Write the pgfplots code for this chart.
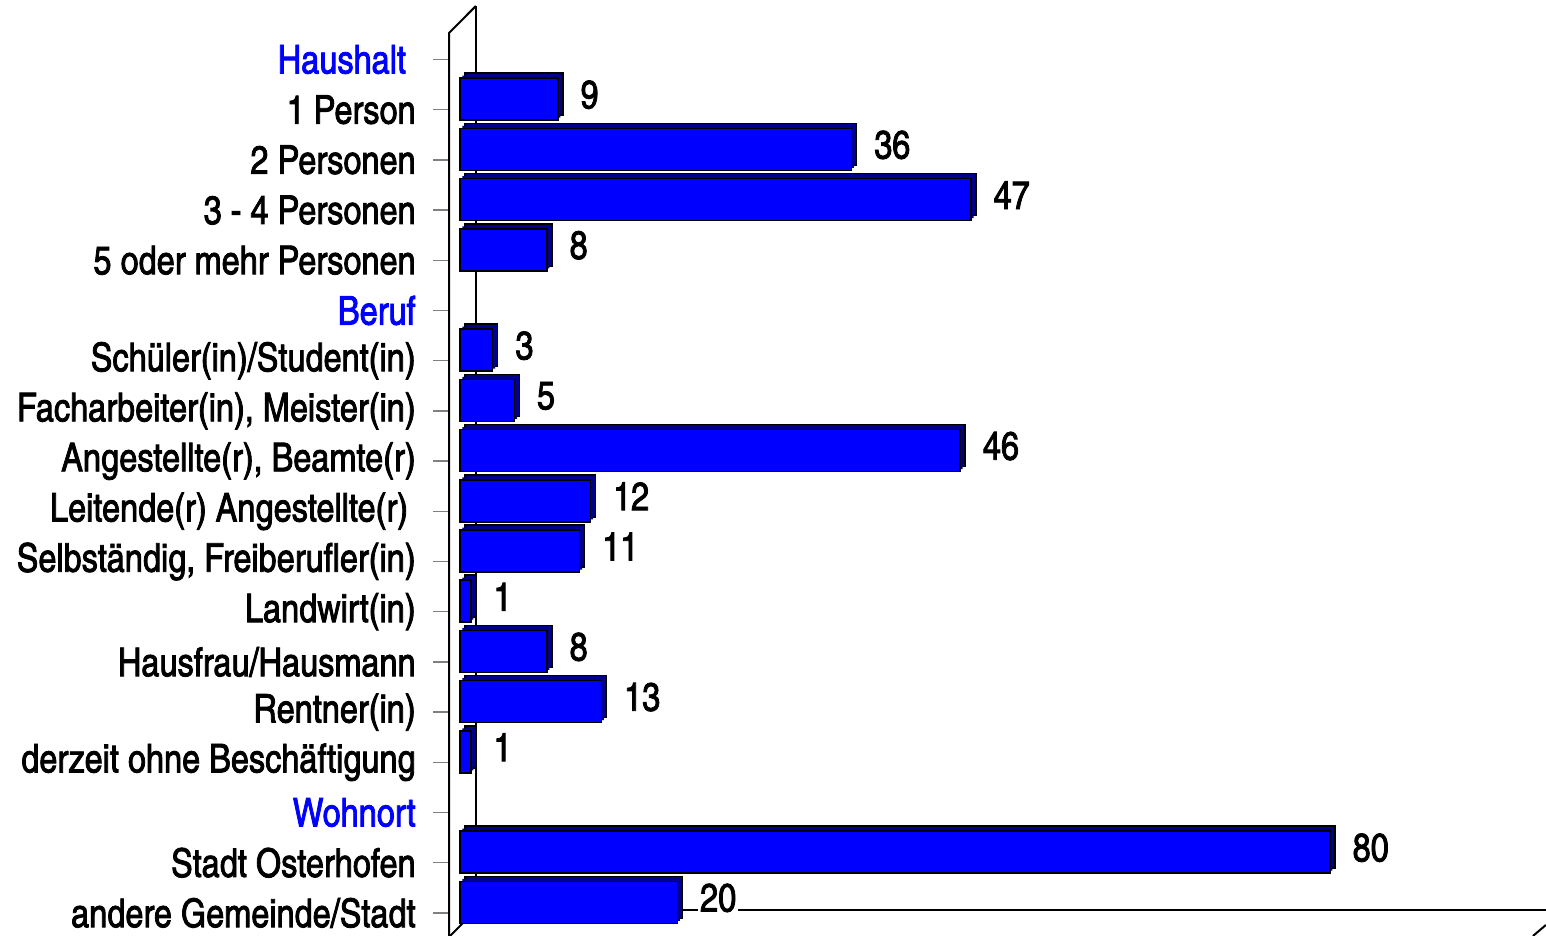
\documentclass[border=0pt]{standalone}
\usepackage{pgfplots}
\pgfplotsset{compat=1.18}
\usepackage{fontspec}
\setmainfont{TeX Gyre Heros Cn}[FakeBold=2]
\definecolor{barblue}{RGB}{0,0,255}
\definecolor{barside}{RGB}{0,0,140}
\definecolor{hdrblue}{RGB}{0,0,255}
\pgfplotstableread{
pos value
1 9
2 36
3 47
4 8
6 3
7 5
8 46
9 12
10 11
11 1
12 8
13 13
14 1
16 80
17 20
}\datatab
\begin{document}
\begin{tikzpicture}[x=1pt,y=1pt]
\path[use as bounding box] (0,0) rectangle (773,468);
\begin{axis}[
  at={(224.5pt,0pt)}, anchor=south west,
  scale only axis, width=549.2pt, height=465pt,
  xmin=-1, xmax=100, ymin=-1.066, ymax=17.46, y dir=reverse,
  axis line style={draw=none},
  xtick=\empty,
  ytick={0,...,17},
  yticklabels={
    {\textcolor{hdrblue}{Haushalt}\kern4.8pt},
    {1 Person},
    {2 Personen},
    {3 - 4 Personen},
    {5 oder mehr Personen},
    {\textcolor{hdrblue}{Beruf}},
    {Schüler(in)/Student(in)},
    {Facharbeiter(in), Meister(in)},
    {Angestellte(r), Beamte(r)},
    {Leitende(r) Angestellte(r)\kern3.8pt},
    {Selbständig, Freiberufler(in)},
    {Landwirt(in)},
    {Hausfrau/Hausmann},
    {Rentner(in)},
    {derzeit ohne Beschäftigung},
    {\textcolor{hdrblue}{Wohnort}},
    {Stadt Osterhofen},
    {andere Gemeinde/Stadt}},
  tick align=outside, major tick length=8pt,
  ytick style={draw=gray, line width=0.75pt},
  yticklabel style={font=\fontsize{19.8}{19.8}\selectfont, anchor=east, inner sep=0pt, xshift=-8.5pt},
  xbar, bar width=21pt, bar shift=0pt,
  clip=false,
  /pgf/number format/assume math mode=true,
]
\draw[black, line width=1pt] (axis cs:1.471,-1.066) -- (axis cs:1.471,16.94) -- (axis cs:99.86,16.94);
\draw[black, line width=1pt] (axis cs:-1,17.46) -- (axis cs:-1,-0.528) -- (axis cs:1.471,-1.066);
\draw[black, line width=1pt] (axis cs:-1,17.48) -- (axis cs:1.471,16.94);
\draw[black, line width=1pt] (axis cs:99.86,17.24) -- (axis cs:98.67,17.46);
\addplot[fill=barside, draw=black, line width=0.75pt, xshift=2.5pt, yshift=7.75pt, forget plot]
  table[x=value, y=pos] {\datatab};
\addplot[fill=barside, draw=none, xshift=1.25pt, yshift=6.5pt, forget plot]
  table[x=value, y=pos] {\datatab};
\addplot[fill=barblue, draw=black, line width=0.75pt, yshift=5.25pt,
  nodes near coords, nodes near coords align=horizontal,
  every node near coord/.append style={font=\fontsize{19.8}{19.8}\selectfont, text=black, fill=white, anchor=west, inner sep=1pt, xshift=10pt, yshift=2.25pt}]
  table[x=value, y=pos] {\datatab};
\end{axis}
\end{tikzpicture}
\end{document}
